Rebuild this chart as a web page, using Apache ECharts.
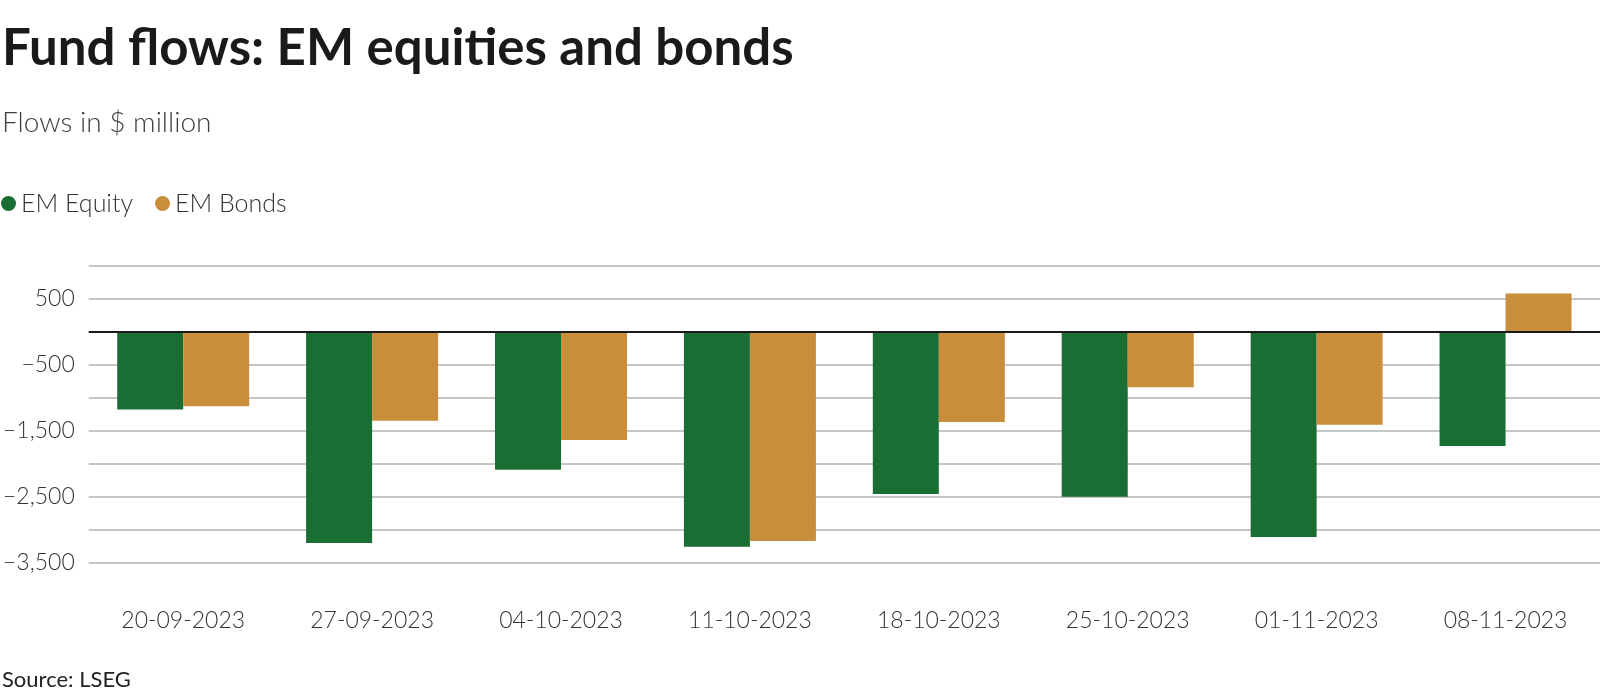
<!DOCTYPE html>
<html>
<head>
<meta charset="utf-8">
<script src="https://cdn.jsdelivr.net/npm/echarts@6/dist/echarts.min.js"></script>
<style>
  html, body { margin: 0; padding: 0; background: #ffffff; }
  #chart { width: 1600px; height: 700px; }
</style>
</head>
<body>
<div id="chart"></div>
<script>
const categories = ['20-09-2023', '27-09-2023', '04-10-2023', '11-10-2023', '18-10-2023', '25-10-2023', '01-11-2023', '08-11-2023'];
const emEquity = [-1180, -3200, -2090, -3260, -2460, -2500, -3110, -1730];
const emBonds = [-1130, -1350, -1640, -3170, -1370, -840, -1410, 580];
const seriesNames = ['EM Equity', 'EM Bonds'];
const titleText = 'Fund flows: EM equities and bonds';
const subtitleText = 'Flows in $ million';
const sourceText = 'Source: LSEG';

const FONT = 'Lato, "Noto Sans", sans-serif';

function fmt(v) {
  if (v % 1000 === 0) return '';
  const abs = Math.abs(v).toLocaleString('en-US');
  return (v < 0 ? '\u2212' : '') + abs;
}

const chart = echarts.init(document.getElementById('chart'), null, { renderer: 'canvas' });
chart.setOption({
  animation: false,
  backgroundColor: '#ffffff',
  textStyle: { fontFamily: FONT },
  title: [
    { text: titleText, left: -3, top: 18, textStyle: { fontFamily: FONT, fontSize: 51, fontWeight: 'bold', color: '#1a1a1a' } },
    { text: subtitleText, left: -3, top: 104, textStyle: { fontFamily: FONT, fontSize: 28, fontWeight: 300, color: '#404040' } },
    { text: sourceText, left: -3, top: 664, textStyle: { fontFamily: FONT, fontSize: 22, fontWeight: 'normal', color: '#222222' } }
  ],
  legend: {
    data: seriesNames,
    left: -4,
    top: 186,
    icon: 'circle',
    itemWidth: 15,
    itemHeight: 15,
    itemGap: 22,
    textStyle: { fontFamily: FONT, fontSize: 25, fontWeight: 300, color: '#333333', padding: [0, 0, 0, 0] }
  },
  grid: { left: 86, right: 0, top: 265.7, bottom: 137.3, containLabel: false },
  xAxis: {
    type: 'category',
    data: categories,
    axisLine: { show: false },
    axisTick: { show: false },
    axisLabel: { margin: 46, fontFamily: FONT, fontSize: 23, fontWeight: 300, color: '#333333' }
  },
  yAxis: {
    type: 'value',
    min: -3500,
    max: 1000,
    interval: 500,
    axisLine: { show: false },
    axisTick: { show: false },
    splitLine: { lineStyle: { color: '#c6c6c6', width: 2 } },
    axisLabel: { margin: 14, fontFamily: FONT, fontSize: 23, fontWeight: 300, color: '#333333', formatter: fmt }
  },
  series: [
    {
      name: seriesNames[0],
      type: 'bar',
      data: emEquity,
      barWidth: 66,
      barGap: '0%',
      itemStyle: { color: '#1a6e34' },
      markLine: {
        silent: true,
        symbol: 'none',
        label: { show: false },
        lineStyle: { color: '#1a1a1a', width: 2, type: 'solid' },
        data: [{ yAxis: 0 }]
      }
    },
    {
      name: seriesNames[1],
      type: 'bar',
      data: emBonds,
      barWidth: 66,
      barGap: '0%',
      itemStyle: { color: '#c98e3b' }
    }
  ]
});
</script>
</body>
</html>
